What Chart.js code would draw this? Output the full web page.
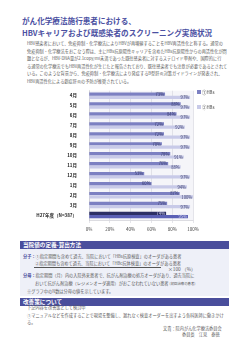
<!DOCTYPE html>
<html lang="ja">
<head>
<meta charset="utf-8">
<script src="https://cdn.jsdelivr.net/npm/chart.js@4.4.1/dist/chart.umd.min.js"></script>
<style>
  html,body{margin:0;padding:0;background:#fff;}
  body{width:250px;height:353px;position:relative;overflow:hidden;font-family:"Noto Sans CJK JP","Noto Sans",sans-serif;color:#444;}
  .t{position:absolute;white-space:nowrap;line-height:1;}
  .title{color:#4b50a2;font-weight:bold;font-size:7.6px;left:22px;}
  .p{font-size:4.2px;color:#5a5a5a;left:27px;}
  .hdr{position:absolute;left:20px;width:209px;height:8px;background:#4a4e9c;color:#fff;font-size:5.6px;font-weight:bold;line-height:8px;padding-left:3px;box-sizing:border-box;}
  .box{position:absolute;left:20px;top:249px;width:209px;height:47px;background:#eef0f8;}
  .lab{color:#4a4e9c;font-weight:bold;}
  .lg{position:absolute;font-size:4.4px;color:#444;white-space:nowrap;line-height:1;}
  .lg i{display:inline-block;width:4px;height:4px;margin-right:1px;vertical-align:-0.5px;}
  #wrap{position:absolute;left:0;top:84px;width:203px;height:150px;}
</style>
</head>
<body>
<div class="t title" style="top:16.5px;">がん化学療法施行患者における、</div>
<div class="t title" style="top:28.8px;">HBVキャリアおよび既感染者のスクリーニング実施状況</div>

<div class="t p" style="top:41px;">HBV感染者において、免疫抑制・化学療法によりHBVが再増殖することをHBV再活性化と称する。通常の</div>
<div class="t p" style="top:48.6px;">免疫抑制・化学療法をおこなう際は、主にHBs抗原陽性キャリアを含めたHBs抗原陽性からの再活性化が問</div>
<div class="t p" style="top:56.2px;">題となるが、HBV-DNA量が2.1copy/ml未満であった既往感染者に対するステロイド単剤や、国際的に行</div>
<div class="t p" style="top:63.8px;">る通常の化学療法でもHBV再活性化が生じたと報告されており、既往感染者でも注意が必要であるとされて</div>
<div class="t p" style="top:71.4px;">いる。このような背景から、免疫抑制・化学療法により発症するB型肝炎対策ガイドラインが発表され、</div>
<div class="t p" style="top:79px;">HBV再活性化による劇症肝炎の予防が推奨されている。</div>

<div id="wrap"><canvas id="c"></canvas></div>
<div class="lg" style="left:197px;top:89.8px;"><i style="background:#7c80c2"></i>①HBs</div>
<div class="lg" style="left:197px;top:104.8px;"><i style="background:#c8cae8"></i>②HBs</div>

<div class="hdr" style="top:241px;">当院値の定義-算出方法</div>
<div class="box"></div>
<div class="t p" style="left:23px;top:254px;"><span class="lab">分子：</span>①指定期間も含めて過去、当院において「HBs抗原検査」のオーダがある患者</div>
<div class="t p" style="left:35px;top:261px;">②指定期間も含めて過去、当院において「HBc抗体検査」のオーダがある患者</div>
<div style="position:absolute;left:34px;top:267px;width:127px;height:0;border-top:0.5px solid #555;"></div>
<div class="t p" style="left:168px;top:266.5px;font-size:4.8px;">×100 （%）</div>
<div class="t p" style="left:23px;top:273px;"><span class="lab">分母：</span>指定期間（月）内の入院外来患者で、抗がん剤治療の処方オーダがあり、過去当院に</div>
<div class="t p" style="left:35px;top:281px;">おいて抗がん剤治療（レジメンオーダ適用）がおこなわれていない患者 <span style="font-size:3.4px">(初回治療の患者)</span></div>
<div class="t p" style="left:27px;top:289px;">※グラフ中のN数は分母の値を示しています。</div>

<div class="hdr" style="top:298px;">改善策について</div>
<div class="t p" style="left:27px;top:305px;">下記内容を改善策として検討中</div>
<div class="t p" style="left:27px;top:313px;">①マニュアルなどを作成することで現場を整備し、漏れなく検査オーダーを出すよう各科医師に働きかけ</div>
<div class="t p" style="left:27px;top:320px;">る。</div>
<div class="t p" style="left:163px;top:326px;">文責：院内がん化学療法委員会</div>
<div class="t p" style="left:182px;top:332px;">委員長　江見　泰徳</div>

<script>
const categories = ['4月','5月','6月','7月','8月','9月','10月','11月','12月','1月','2月','3月','H27年度（N=387）'];
const seriesNames = ['①HBs','②HBs'];
const hbsValues = [73,88,84,72,72,70,78,76,53,60,87,75,74];
const secondValues = [97,97,97,92,97,97,91,88,97,94,100,97,95];
const xTickValues = [0,20,40,60,80,100];

const lastIdx = categories.length - 1;
const darkColors = categories.map((c,i)=> i===lastIdx ? '#2c2f66' : '#7c80c2');
const lightColors = categories.map((c,i)=> i===lastIdx ? '#5b60b6' : '#c8cae8');

const FONT = '"Noto Sans CJK JP","Noto Sans",sans-serif';

const plotBg = {
  id:'plotBg',
  beforeDraw(chart){
    const a = chart.chartArea, ctx = chart.ctx;
    ctx.save();
    ctx.fillStyle = '#f5f5f9';
    ctx.fillRect(a.left, a.top, a.right-a.left, a.bottom-a.top);
    ctx.restore();
  }
};
const valueLabels = {
  id:'valueLabels',
  afterDatasetsDraw(chart){
    const ctx = chart.ctx;
    ctx.save();
    ctx.font = '4.2px ' + FONT;
    ctx.textAlign = 'right';
    ctx.textBaseline = 'middle';
    chart.data.datasets.forEach((ds,di)=>{
      chart.getDatasetMeta(di).data.forEach((bar,i)=>{
        ctx.fillStyle = (i===lastIdx) ? '#d8d9f0' : '#3a3d6e';
        ctx.fillText(ds.data[i] + '%', bar.x - 1, bar.y + 0.2);
      });
    });
    ctx.restore();
  }
};

new Chart(document.getElementById('c'), {
  type:'bar',
  data:{
    labels:categories,
    datasets:[
      {label:seriesNames[0], data:hbsValues, backgroundColor:darkColors, borderWidth:0},
      {label:seriesNames[1], data:secondValues, backgroundColor:lightColors, borderWidth:0}
    ]
  },
  options:{
    indexAxis:'y',
    responsive:true,
    maintainAspectRatio:false,
    animation:false,
    devicePixelRatio:1,
    layout:{padding:{top:0,right:0,bottom:0,left:0}},
    datasets:{bar:{categoryPercentage:0.66, barPercentage:0.98}},
    plugins:{legend:{display:false}, tooltip:{enabled:false}},
    scales:{
      x:{
        min:0, max:100,
        afterBuildTicks(scale){ scale.ticks = xTickValues.map(v=>({value:v})); },
        ticks:{callback:v=>v+'%', font:{size:4.5, family:FONT}, color:'#444', padding:4, maxRotation:0},
        grid:{color:'#d4d4dc', lineWidth:0.6, tickLength:3},
        border:{color:'#c4c4cc', width:0.6},
        afterFit(s){ s.height = 14; }
      },
      y:{
        ticks:{font:{size:4.5, weight:'bold', family:FONT}, color:'#222', padding:4},
        grid:{display:false},
        border:{color:'#c4c4cc', width:0.6},
        afterFit(s){ s.width = 89; }
      }
    }
  },
  plugins:[plotBg, valueLabels]
});
</script>
</body>
</html>
